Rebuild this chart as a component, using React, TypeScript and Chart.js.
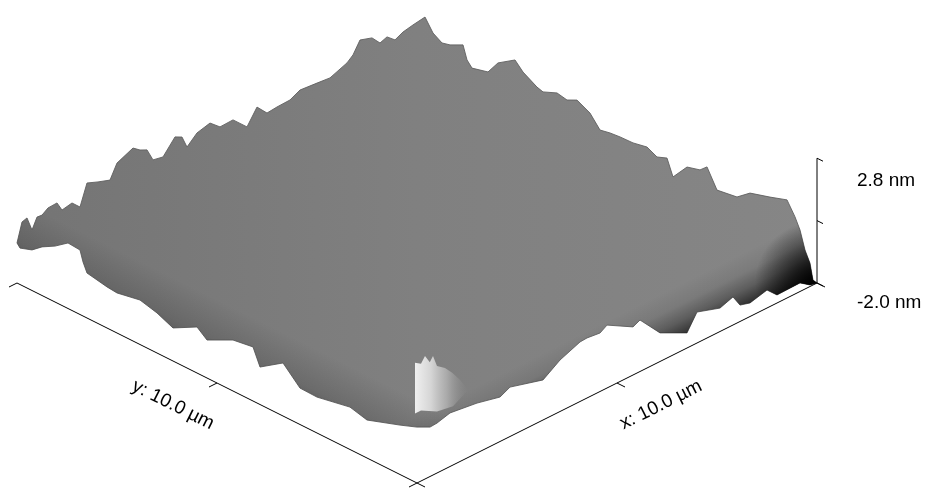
import React, { useEffect, useRef } from "react";
import { Chart, registerables } from "chart.js";

Chart.register(...registerables);

// ---- AFM scan description ----
const scanSizeUm = 10.0;
const zRangeNm = [-2.0, 2.8];
const zTicksNm = [-2.0, 0.4, 2.8];
const lateralTicksUm = [0, 5, 10];
const zTickLabels = ["-2.0 nm", "2.8 nm"];
const xAxisLabel = "x: 10.0 µm";
const yAxisLabel = "y: 10.0 µm";

// Height profile along the back-left edge (y = 10 µm), positions in x (µm), heights in nm
const backLeftX = [0, 0.125, 0.25, 0.375, 0.5, 0.625, 0.775, 1.0, 1.125, 1.375, 1.575, 1.75, 2.025, 2.325, 2.5, 2.9, 3.075, 3.25, 3.4, 3.65, 3.95, 4.125, 4.25, 4.5, 4.825, 5.075, 5.4, 5.75, 6.0, 6.25, 6.5, 6.825, 7.075, 7.5, 7.825, 8.25, 8.4, 8.575, 8.875, 9.075, 9.25, 9.45, 9.65, 9.9];
const backLeftZ = [-0.46, 0.25, 0.31, -0.25, 0.15, 0.13, 0.29, 0.31, -0.06, 0.02, -0.29, 0.5, 0.33, 0.17, 0.69, 0.96, 0.75, 0.62, 0.12, 0.04, 0.58, 0.44, -0.04, 0.31, 0.44, 0.1, 0.12, -0.42, 0.15, -0.27, -0.23, -0.21, -0.02, -0.08, -0.13, 0.12, 0.31, 0.75, 0.6, 0.25, 0.35, 0.08, 0.23, 0.31];

// Height profile along the back-right edge (x = 10 µm), positions in y (µm)
const backRightY = [9.8, 9.6, 9.375, 9.175, 8.85, 8.75, 8.625, 8.425, 8.225, 7.975, 7.55, 7.35, 7.0, 6.85, 6.5, 6.25, 6.0, 5.675, 5.425, 5.175, 4.925, 4.6, 4.25, 4.0, 3.75, 3.6, 3.25, 2.925, 2.75, 2.5, 2.0, 1.675, 1.175, 0.75, 0.55, 0.425, 0.3, 0.175, 0.1, 0];
const backRightZ = [0.69, 0.23, 0.02, 0.1, 0.35, -0.15, -0.37, -0.29, -0.21, 0.33, 0.77, 0.46, 0.15, 0.08, 0.31, 0.23, 0.42, 0.17, -0.29, -0.21, -0.17, -0.15, -0.04, -0.23, -0.08, -0.69, -0.04, 0.1, 0.35, -0.35, -0.23, 0.17, 0.4, 0.62, 0.12, -0.29, -0.96, -1.37, -1.96, -2.0];

// Height profile along the front-right edge (y = 0), positions in x (µm)
const frontRightX = [0, 0.325, 0.5, 0.825, 1.5, 2.075, 2.325, 3.15, 3.575, 4.075, 4.25, 4.575, 4.75, 5.4, 5.575, 6.075, 6.75, 7.0, 7.575, 7.9, 8.075, 8.325, 8.75, 9.0, 9.575, 9.825, 10];
const frontRightZ = [0.15, -0.1, -0.08, 0.06, -0.08, -0.29, -0.1, -0.46, -0.02, 0.29, 0.31, 0.25, 0.42, -0.15, -0.02, -0.9, -1.42, -0.81, -1.1, -0.92, -1.37, -1.48, -1.31, -1.69, -1.67, -1.94, -2.0];

// Height profile along the front-left edge (x = 0), positions in y (µm)
const frontLeftY = [10, 9.925, 9.625, 9.375, 9.05, 8.725, 8.425, 8.35, 8.25, 7.75, 7.5, 6.925, 6.5, 6.1, 5.5, 5.25, 4.6, 4.1, 3.925, 3.35, 2.925, 2.5, 1.675, 1.25, 0.425, 0];
const frontLeftZ = [-0.46, -0.6, -0.44, -0.13, 0.15, 0.52, 0.48, 0.08, -0.27, -0.42, -0.46, -0.29, -0.46, -0.73, -0.23, -0.54, -0.04, 0.08, -0.56, 0.04, -0.6, -0.62, -0.37, -0.54, -0.1, 0.15];

// Bright peak near the front corner, outline along y = 0.3 µm
const peakY = 0.3;
const peakX = [0.25, 0.25, 0.4, 0.5, 0.62, 0.7, 0.8, 1.0, 1.18, 1.38, 1.58, 1.2, 0.8, 0.4];
const peakZ = [0.25, 2.2, 2.05, 2.27, 1.94, 2.12, 1.65, 1.42, 1.1, 0.67, 0.13, -0.2, -0.1, 0.25];

// ---- oblique projection of (x µm, y µm, z nm) onto the chart plane ----
const Z_PER_UM = 1.3;
type P = { x: number; y: number };
function project(x: number, y: number, z: number): P {
  return { x: x - y, y: x + y + Z_PER_UM * (z - zRangeNm[0]) };
}

function surfaceOutline(): P[] {
  const pts: P[] = [];
  backLeftX.forEach((x, i) => pts.push(project(x, scanSizeUm, backLeftZ[i])));
  backRightY.forEach((y, i) => pts.push(project(scanSizeUm, y, backRightZ[i])));
  for (let i = frontRightX.length - 1; i >= 0; i--) pts.push(project(frontRightX[i], 0, frontRightZ[i]));
  for (let i = frontLeftY.length - 1; i >= 0; i--) pts.push(project(0, frontLeftY[i], frontLeftZ[i]));
  return pts;
}

function peakOutline(): P[] {
  return peakX.map((x, i) => project(x, peakY, peakZ[i]));
}

function toPx(chart: any, p: P) {
  return { x: chart.scales.x.getPixelForValue(p.x), y: chart.scales.y.getPixelForValue(p.y) };
}

function ready(chart: any) {
  return chart && chart.chartArea && chart.scales && chart.scales.x && isFinite(chart.scales.x.getPixelForValue(0));
}

const zMin = zRangeNm[0];

function baseFill(c: any) {
  const chart = c.chart;
  if (!ready(chart)) return "#7d7d7d";
  const a = toPx(chart, project(0, scanSizeUm, 0));
  const b = toPx(chart, project(scanSizeUm, 0, 0));
  const g = chart.ctx.createLinearGradient(a.x, 0, b.x, 0);
  g.addColorStop(0, "#747474");
  g.addColorStop(0.5, "#808080");
  g.addColorStop(1, "#868686");
  return g;
}

function frontRightShade(c: any) {
  const chart = c.chart;
  if (!ready(chart)) return "rgba(0,0,0,0)";
  const f = toPx(chart, project(0, 0, zMin));
  const r = toPx(chart, project(scanSizeUm, 0, zMin));
  const dx = r.x - f.x, dy = r.y - f.y;
  const len = Math.hypot(dx, dy);
  const nx = dy / len, ny = -dx / len; // perpendicular, pointing up-left
  const d = 60;
  const g = chart.ctx.createLinearGradient(f.x, f.y, f.x + nx * d, f.y + ny * d);
  g.addColorStop(0, "rgba(0,0,0,0.95)");
  g.addColorStop(0.2, "rgba(0,0,0,0.65)");
  g.addColorStop(0.45, "rgba(0,0,0,0.3)");
  g.addColorStop(0.7, "rgba(0,0,0,0.08)");
  g.addColorStop(1, "rgba(0,0,0,0)");
  return g;
}

function frontLeftShade(c: any) {
  const chart = c.chart;
  if (!ready(chart)) return "rgba(0,0,0,0)";
  const f = toPx(chart, project(0, 0, zMin));
  const l = toPx(chart, project(0, scanSizeUm, zMin));
  const dx = l.x - f.x, dy = l.y - f.y;
  const len = Math.hypot(dx, dy);
  const nx = -dy / len, ny = dx / len;
  const sgn = ny > 0 ? -1 : 1;
  const d = 75;
  const g = chart.ctx.createLinearGradient(f.x, f.y, f.x + sgn * nx * d, f.y + sgn * ny * d);
  g.addColorStop(0, "rgba(0,0,0,0.45)");
  g.addColorStop(0.5, "rgba(0,0,0,0.14)");
  g.addColorStop(1, "rgba(0,0,0,0)");
  return g;
}

function cornerShade(c: any) {
  const chart = c.chart;
  if (!ready(chart)) return "rgba(0,0,0,0)";
  const r = toPx(chart, project(scanSizeUm, 0, zMin));
  const g = chart.ctx.createRadialGradient(r.x, r.y, 0, r.x, r.y, 62);
  g.addColorStop(0, "rgba(0,0,0,0.95)");
  g.addColorStop(0.4, "rgba(0,0,0,0.6)");
  g.addColorStop(1, "rgba(0,0,0,0)");
  return g;
}

function peakFill(c: any) {
  const chart = c.chart;
  if (!ready(chart)) return "#cccccc";
  const a = toPx(chart, project(peakX[0], peakY, 0));
  const b = toPx(chart, project(peakX[10], peakY, 0));
  const g = chart.ctx.createLinearGradient(a.x, 0, b.x, 0);
  g.addColorStop(0, "rgba(240,240,240,1)");
  g.addColorStop(0.3, "rgba(216,216,216,0.97)");
  g.addColorStop(0.6, "rgba(180,180,180,0.8)");
  g.addColorStop(1, "rgba(140,140,140,0)");
  return g;
}

function segment(a: P, b: P, order: number) {
  return {
    data: [a, b],
    showLine: true,
    borderColor: "#000",
    borderWidth: 1,
    pointRadius: 0,
    fill: false,
    order,
  };
}

function buildDatasets() {
  const outline = surfaceOutline();
  const ds: any[] = [];
  const shape = (bg: any, order: number, border = 0, borderColor = "rgba(0,0,0,0)") => ({
    data: outline,
    showLine: true,
    pointRadius: 0,
    borderWidth: border,
    borderColor,
    backgroundColor: bg,
    fill: "shape",
    tension: 0,
    order,
  });
  ds.push(shape(baseFill, 20, 1, "rgba(95,95,95,0.9)"));
  ds.push(shape(frontLeftShade, 19));
  ds.push(shape(frontRightShade, 18));
  ds.push(shape(cornerShade, 17));
  ds.push({
    data: peakOutline(),
    showLine: true,
    pointRadius: 0,
    borderWidth: 0,
    borderColor: "rgba(0,0,0,0)",
    backgroundColor: peakFill,
    fill: "shape",
    tension: 0,
    order: 16,
  });
  // axes: y along x = 0, x along y = 0, z at the right corner
  ds.push(segment(project(0, 0, zMin), project(0, scanSizeUm, zMin), 1));
  ds.push(segment(project(0, 0, zMin), project(scanSizeUm, 0, zMin), 1));
  ds.push(segment(project(scanSizeUm, 0, zRangeNm[0]), project(scanSizeUm, 0, zRangeNm[1]), 1));
  const tickUm = 0.2;
  lateralTicksUm.forEach((t) => {
    ds.push(segment(project(0, t, zMin), project(-tickUm, t, zMin), 1));
    ds.push(segment(project(t, 0, zMin), project(t, -tickUm, zMin), 1));
  });
  zTicksNm.forEach((z) => {
    ds.push(segment(project(scanSizeUm, 0, z), project(scanSizeUm, -0.15, z), 1));
  });
  return ds;
}

const labelPlugin = {
  id: "afmLabels",
  afterDatasetsDraw(chart: any) {
    const ctx = chart.ctx;
    ctx.save();
    ctx.fillStyle = "#000";
    ctx.font = '19px "Liberation Sans", Arial, sans-serif';
    // z labels
    ctx.textAlign = "left";
    ctx.textBaseline = "middle";
    zRangeNm.forEach((z, i) => {
      const p = toPx(chart, project(scanSizeUm, -1.0, z));
      ctx.fillText(zTickLabels[i], p.x, p.y + (i === 1 ? 3 : 0));
    });
    // rotated lateral labels
    const f = toPx(chart, project(0, 0, zMin));
    const l = toPx(chart, project(0, scanSizeUm, zMin));
    const r = toPx(chart, project(scanSizeUm, 0, zMin));
    const angY = Math.atan2(f.y - l.y, f.x - l.x);
    const angX = Math.atan2(r.y - f.y, r.x - f.x);
    ctx.textAlign = "center";
    const yl = toPx(chart, project(-1.1, scanSizeUm / 2, zMin));
    ctx.save();
    ctx.translate(yl.x, yl.y);
    ctx.rotate(angY);
    ctx.fillText(yAxisLabel, 0, 0);
    ctx.restore();
    const xl = toPx(chart, project(scanSizeUm / 2, -1.1, zMin));
    ctx.save();
    ctx.translate(xl.x, xl.y);
    ctx.rotate(angX);
    ctx.fillText(xAxisLabel, 0, 0);
    ctx.restore();
    ctx.restore();
  },
};

// chart plane extents (projected units) matching the picture frame
const planeXMin = -10.425;
const planeXMax = 12.75;
const planeYMin = -0.45;
const planeYMax = 24.15;

export default function App() {
  const ref = useRef<HTMLCanvasElement>(null);
  useEffect(() => {
    const canvas = ref.current;
    if (!canvas) return;
    const chart = new Chart(canvas, {
      type: "scatter",
      data: { datasets: buildDatasets() },
      options: {
        animation: false,
        responsive: false,
        events: [],
        layout: { padding: 0 },
        scales: {
          x: { type: "linear", min: planeXMin, max: planeXMax, display: false, bounds: "data" },
          y: { type: "linear", min: planeYMin, max: planeYMax, display: false, bounds: "data" },
        },
        plugins: {
          legend: { display: false },
          tooltip: { enabled: false },
        },
      } as any,
      plugins: [labelPlugin],
    });
    return () => chart.destroy();
  }, []);
  return (
    <div style={{ position: "fixed", left: 0, top: 0, width: 927, height: 492, background: "#fff" }}>
      <canvas ref={ref} width={927} height={492} style={{ display: "block", width: 927, height: 492 }} />
    </div>
  );
}
